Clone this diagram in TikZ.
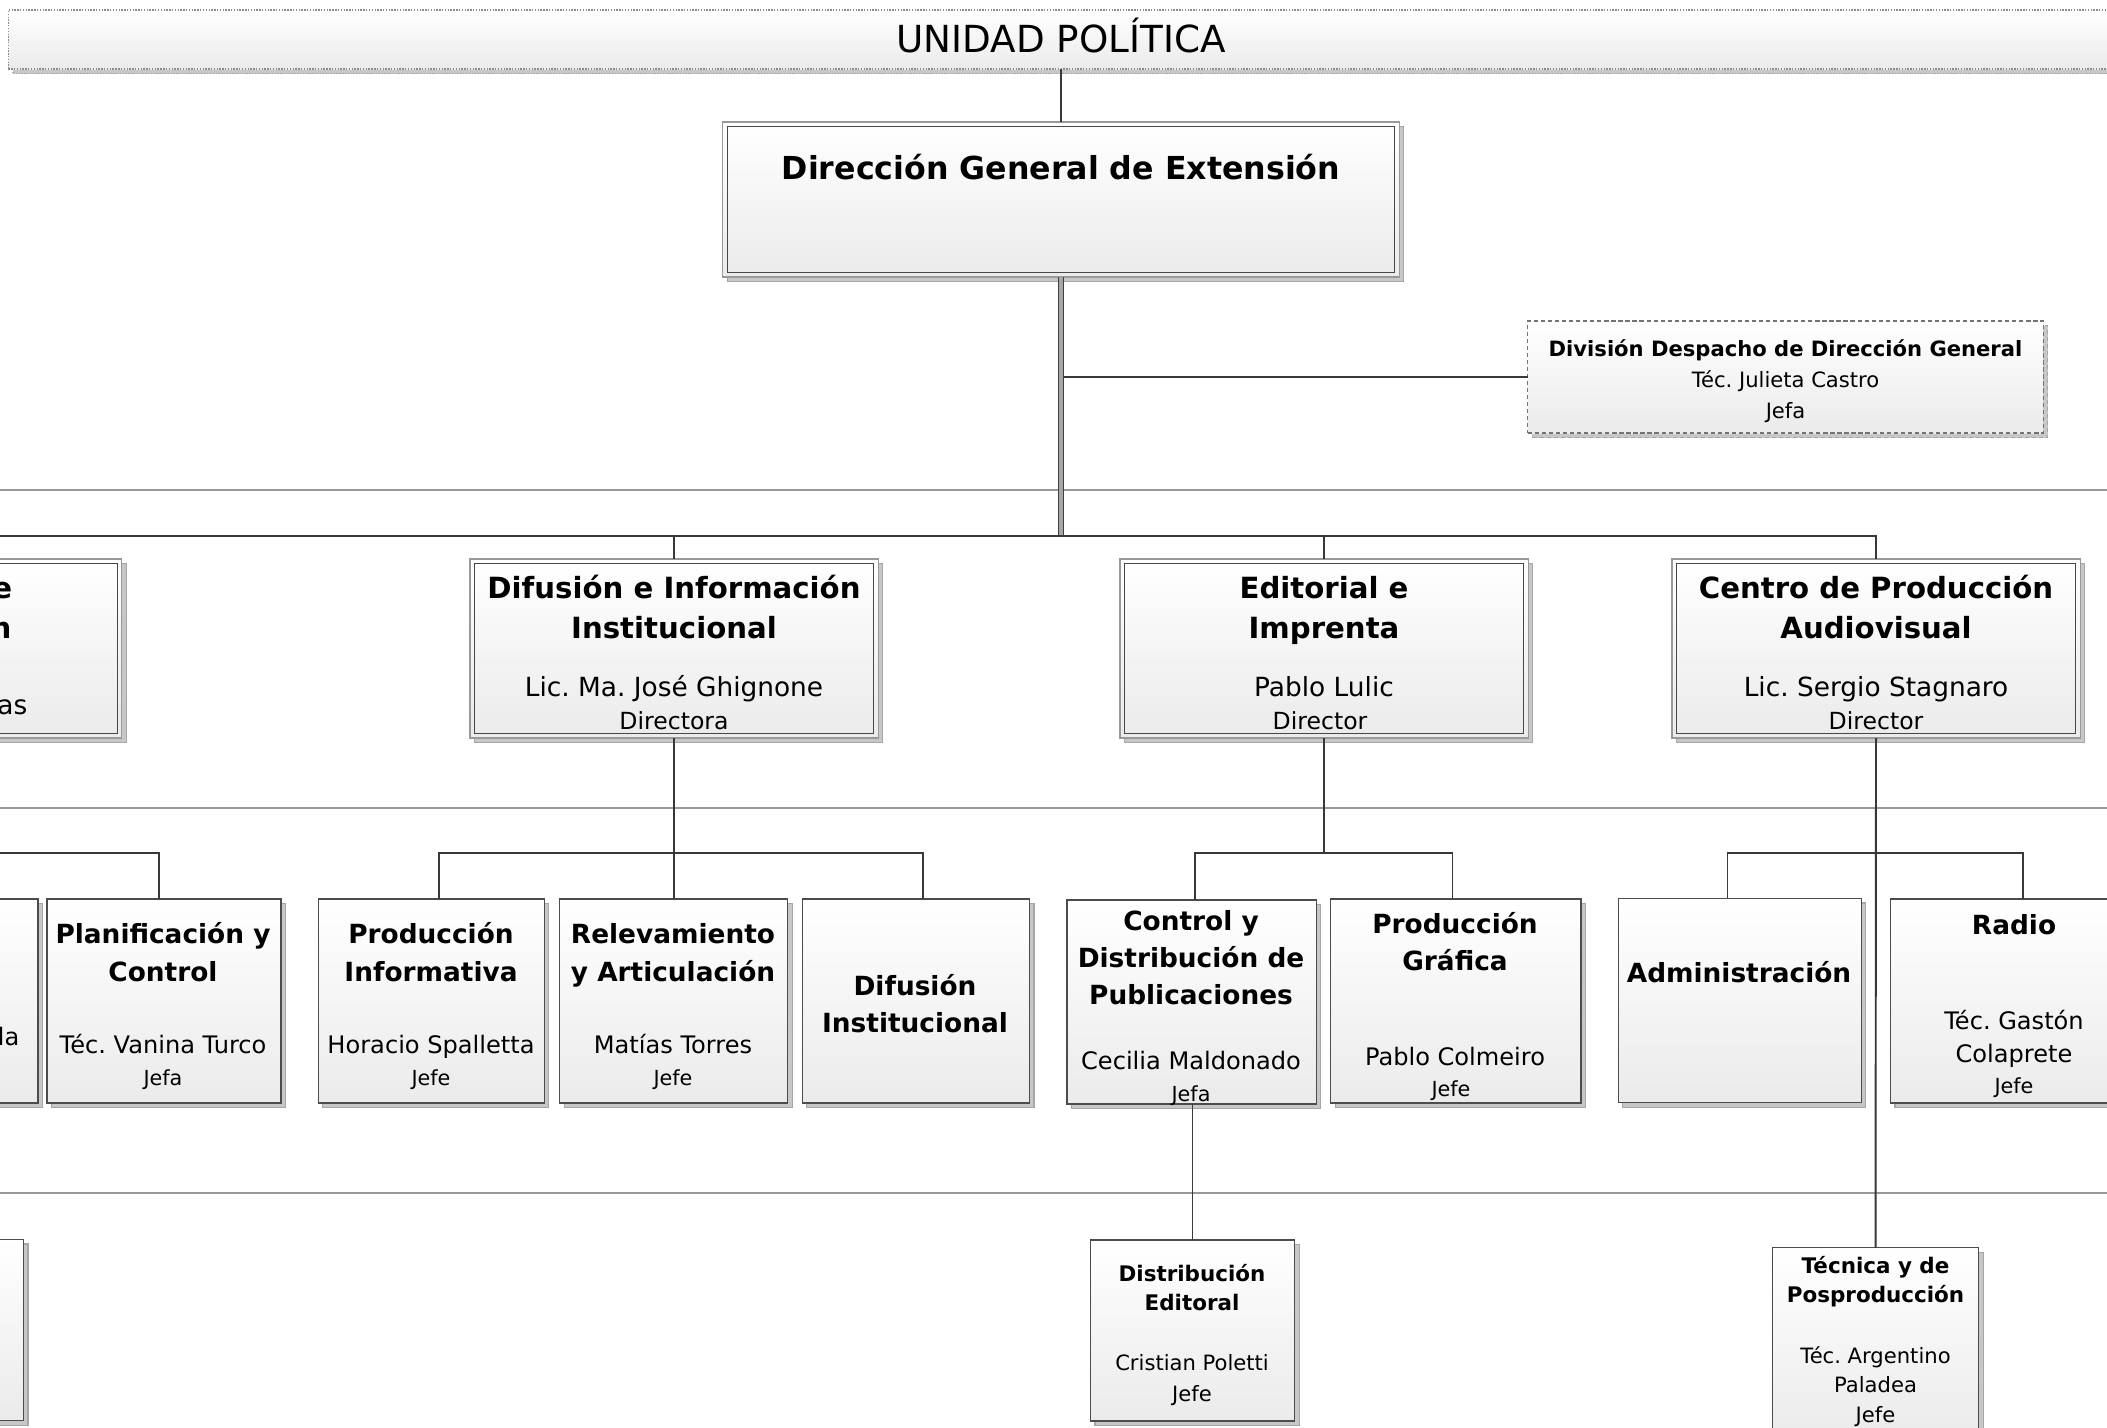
\documentclass[tikz,border=0pt]{standalone}
\usepackage{fontspec}
\setmainfont{DejaVu Sans}
\usetikzlibrary{shadows}
\frenchspacing

\tikzset{
	linea/.style={black!78, line width=.55pt},
	troncal/.style={black!75, line width=.45pt, double=black!35, double distance=.9pt},
	nivel/.style={black!40, line width=.45pt},
	caja/.style={draw=black!70, line width=.35pt, top color=white, bottom color=black!8, inner sep=0pt, outer sep=0pt,
		drop shadow={shadow xshift=1.3pt, shadow yshift=-1.3pt, fill=black!22, draw=black!35, opacity=1}},
	marco/.style={caja, draw=black!40, path picture={\draw [black!72, line width=.35pt] ([shift={(1.3pt,-1.3pt)}]path picture bounding box.north west) rectangle ([shift={(-1.3pt,1.3pt)}]path picture bounding box.south east);}},
	despacho/.style={caja, draw=black!55, dash pattern=on 1.2pt off .8pt},
	banda/.style={caja, draw=black!45, dash pattern=on .4pt off .4pt},
	n2/.style={marco, minimum width=4.08cm, minimum height=1.79cm},
	n3/.style={caja, minimum height=2.04cm},
	n4/.style={caja, minimum height=1.81cm},
	txt/.style={inner sep=0pt, anchor=mid},
	tban/.style={txt, font=\fontsize{10.6}{12}\selectfont},
	tdg/.style={txt, font=\bfseries\fontsize{9}{11}\selectfont},
	tdivb/.style={txt, font=\bfseries\fontsize{6}{7}\selectfont},
	tdiv/.style={txt, font=\fontsize{6}{7}\selectfont},
	tit2/.style={txt, font=\bfseries\fontsize{8.3}{10}\selectfont},
	nom2/.style={txt, font=\fontsize{7.5}{9}\selectfont},
	car2/.style={txt, font=\fontsize{6.7}{8}\selectfont},
	tit3/.style={txt, font=\bfseries\fontsize{7.5}{9}\selectfont},
	nom3/.style={txt, font=\fontsize{6.85}{8}\selectfont},
	car3/.style={txt, font=\fontsize{5.9}{7}\selectfont},
	tit4/.style={txt, font=\bfseries\fontsize{6.1}{7}\selectfont},
	nom4/.style={txt, font=\fontsize{6}{7}\selectfont}
}

\begin{document}
\begin{tikzpicture}[x=0.01cm, y=-0.01cm]
	\useasboundingbox (0,0) rectangle (2107,1427);
	\clip (0,0) rectangle (2107,1427);

	% lignes de niveau
	\draw [nivel] (0,490) -- (2107,490);
	\draw [nivel] (0,808) -- (2107,808);
	\draw [nivel] (0,1193) -- (2107,1193);

	% cajas
	\node [banda, minimum width=21.04cm, minimum height=0.59cm] (unidad) at (1061,39.5) {};
	\node [marco, minimum width=6.76cm, minimum height=1.55cm] (dg) at (1061,199.5) {};
	\node [despacho, minimum width=5.15cm, minimum height=1.12cm] (ddg) at (1785.5,377) {};

	\node [n2] (izq) at (-82.3,648.5) {};
	\node [n2] (difu) at (674,648.5) {};
	\node [n2] (edit) at (1324,648.5) {};
	\node [n2] (centro) at (1876,648.5) {};

	\node [n3, minimum width=2.35cm] (dacut) at (-79.5,1001) {};
	\node [n3, minimum width=2.34cm] (planif) at (164,1001) {};
	\node [n3, minimum width=2.26cm] (prodinf) at (431.2,1001) {};
	\node [n3, minimum width=2.28cm] (relev) at (673.7,1001) {};
	\node [n3, minimum width=2.27cm] (difinst) at (915.8,1001) {};
	\node [n3, minimum width=2.49cm] (ctrl) at (1191.6,1002) {};
	\node [n3, minimum width=2.50cm] (prodgraf) at (1455.8,1001) {};
	\node [n3, minimum width=2.43cm] (admin) at (1739.7,1000.5) {};
	\node [n3, minimum width=2.49cm] (radio) at (2015,1001) {};

	\node [n4, minimum width=2.04cm] (izq4) at (-78.6,1330) {};
	\node [n4, minimum width=2.04cm] (disted) at (1192.5,1330.5) {};
	\node [n4, minimum width=2.06cm, minimum height=1.90cm] (tecnica) at (1875.5,1342.7) {};

	% puntos de las barras
	\coordinate (b0) at (1061,536);
	\coordinate (bizq) at (-82.3,853);
	\coordinate (bdifu) at (674,853);
	\coordinate (bedit) at (1324,853);
	\coordinate (bcentro) at (1876,853);

	% conectores
	\draw [linea] (unidad.south) -- (dg.north);
	\draw [linea] (ddg.west) -- (ddg.west -| dg.south);
	\draw [troncal] (dg.south) -- (b0);
	\draw [linea] (izq.north) |- (b0) -| (centro.north);
	\draw [linea] (difu.north) -- (difu.north |- b0);
	\draw [linea] (edit.north) -- (edit.north |- b0);

	\draw [linea] (izq.south) -- (bizq);
	\draw [linea] (dacut.north) |- (bizq) -| ([xshift=-.046cm]planif.north);
	\draw [linea] (difu.south) -- (bdifu);
	\draw [linea] ([xshift=.078cm]prodinf.north) |- (bdifu) -| ([xshift=.07cm]difinst.north);
	\draw [linea] (relev.north) -- (relev.north |- bdifu);
	\draw [linea] (edit.south) -- (bedit);
	\draw [linea] ([xshift=.034cm]ctrl.north) |- (bedit) -| ([xshift=-.033cm]prodgraf.north);
	\draw [linea] ([xshift=-.122cm]admin.north) |- (bcentro) -| ([xshift=.078cm]radio.north);
	\draw [linea] (centro.south) -- (tecnica.north);
	\draw [linea] (disted.north) -- (disted.north |- ctrl.south);

	% textos
	\node [tban] (unidad-t) at (1061,43) {UNIDAD POLÍTICA};
	\node [tdg] (dg-t) at (1061,170) {Dirección General de Extensión};
	\node [tdivb] (ddg-a) at (1785.5,347) {División Despacho de Dirección General};
	\node [tdiv] (ddg-b) at (1785.5,378) {Téc. Julieta Castro};
	\node [tdiv] (ddg-c) at (1785.5,409) {Jefa};

	\node [tit2, anchor=mid east] (izq-a) at (13,589) {e};
	\node [tit2, anchor=mid east] (izq-b) at (12,629) {n};
	\node [nom2, anchor=mid east] (izq-c) at (28,705) {as};

	\node [tit2] (difu-a) at (674,589) {Difusión e Información};
	\node [tit2] (difu-b) at (674,629) {Institucional};
	\node [nom2] (difu-c) at (674,687) {Lic. Ma. José Ghignone};
	\node [car2] (difu-d) at (674,720) {Directora};

	\node [tit2] (edit-a) at (1324,589) {Editorial e};
	\node [tit2] (edit-b) at (1324,629) {Imprenta};
	\node [nom2] (edit-c) at (1324,687) {Pablo Lulic};
	\node [car2] (edit-d) at (1320,720) {Director};

	\node [tit2] (centro-a) at (1876,589) {Centro de Producción};
	\node [tit2] (centro-b) at (1876,629) {Audiovisual};
	\node [nom2] (centro-c) at (1876,687) {Lic. Sergio Stagnaro};
	\node [car2] (centro-d) at (1876,720) {Director};

	\node [nom3, anchor=mid east] (dacut-a) at (20,1036) {da};

	\node [tit3] (planif-a) at (163,934) {Planificación y};
	\node [tit3] (planif-b) at (163,972) {Control};
	\node [nom3] (planif-c) at (163,1044) {Téc. Vanina Turco};
	\node [car3] (planif-d) at (163,1076) {Jefa};

	\node [tit3] (prodinf-a) at (431,934) {Producción};
	\node [tit3] (prodinf-b) at (431,972) {Informativa};
	\node [nom3] (prodinf-c) at (431,1044) {Horacio Spalletta};
	\node [car3] (prodinf-d) at (431,1076) {Jefe};

	\node [tit3] (relev-a) at (673,934) {Relevamiento};
	\node [tit3] (relev-b) at (673,972) {y Articulación};
	\node [nom3] (relev-c) at (673,1044) {Matías Torres};
	\node [car3] (relev-d) at (673,1076) {Jefe};

	\node [tit3] (difinst-a) at (915,986) {Difusión};
	\node [tit3] (difinst-b) at (915,1023) {Institucional};

	\node [tit3] (ctrl-a) at (1191,921) {Control y};
	\node [tit3] (ctrl-b) at (1191,958) {Distribución de};
	\node [tit3] (ctrl-c) at (1191,995) {Publicaciones};
	\node [nom3] (ctrl-d) at (1191,1060) {Cecilia Maldonado};
	\node [car3] (ctrl-e) at (1191,1092) {Jefa};

	\node [tit3] (prodgraf-a) at (1455,924) {Producción};
	\node [tit3] (prodgraf-b) at (1455,961) {Gráfica};
	\node [nom3] (prodgraf-c) at (1455,1056) {Pablo Colmeiro};
	\node [car3] (prodgraf-d) at (1451,1087) {Jefe};

	\node [tit3] (admin-a) at (1739,973) {Administración};

	\node [tit3] (radio-a) at (2014,925) {Radio};
	\node [nom3] (radio-b) at (2014,1020) {Téc. Gastón};
	\node [nom3] (radio-c) at (2014,1053) {Colaprete};
	\node [car3] (radio-d) at (2014,1084) {Jefe};

	\node [tit4] (disted-a) at (1192,1272) {Distribución};
	\node [tit4] (disted-b) at (1192,1301) {Editoral};
	\node [nom4] (disted-c) at (1192,1361) {Cristian Poletti};
	\node [nom4] (disted-d) at (1192,1392) {Jefe};

	\node [tit4] (tecnica-a) at (1875.5,1264) {Técnica y de};
	\node [tit4] (tecnica-b) at (1875.5,1293) {Posproducción};
	\node [nom4] (tecnica-c) at (1875.5,1354) {Téc. Argentino};
	\node [nom4] (tecnica-d) at (1875.5,1383) {Paladea};
	\node [nom4] (tecnica-e) at (1875.5,1413) {Jefe};
\end{tikzpicture}
\end{document}
